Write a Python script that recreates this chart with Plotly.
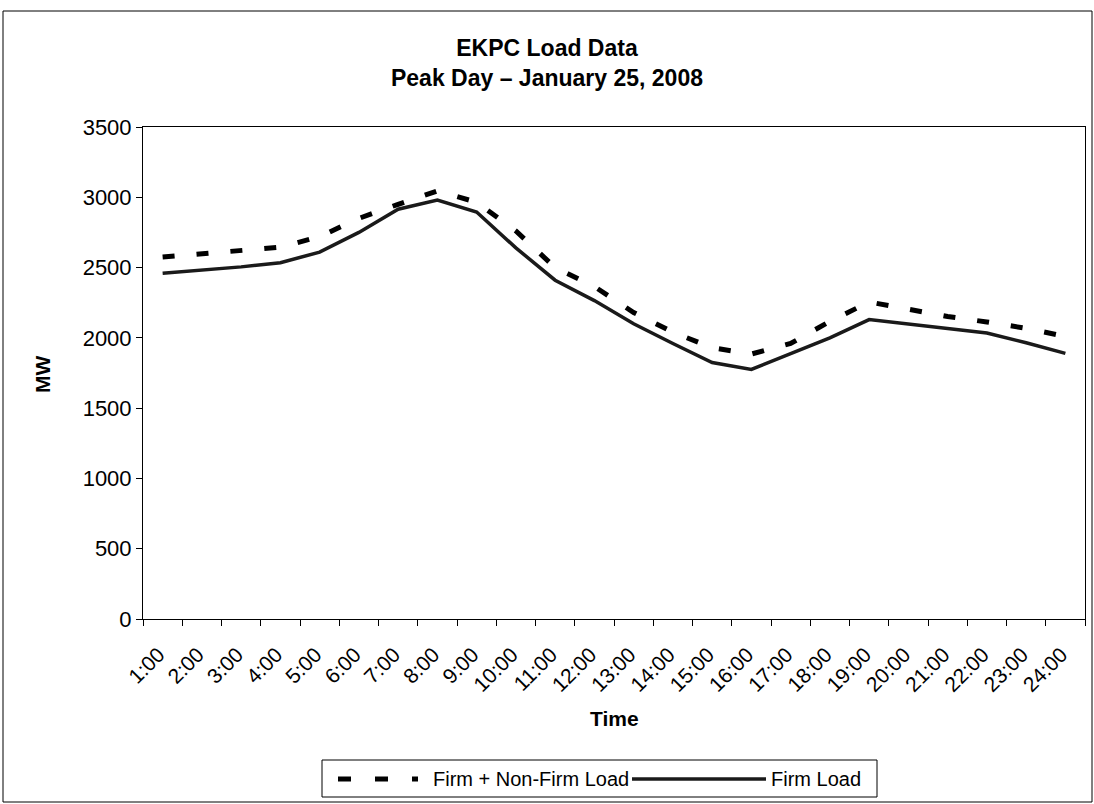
import plotly.graph_objects as go

hours = [f"{h}:00" for h in range(1, 25)]
firm_plus_nonfirm = [2575, 2600, 2625, 2645, 2720, 2850, 2950, 3045, 2965, 2760, 2500, 2365,
                     2180, 2040, 1930, 1885, 1960, 2117, 2255, 2205, 2152, 2113, 2068, 2010]
firm_load = [2460, 2480, 2505, 2535, 2610, 2750, 2915, 2980, 2895, 2640, 2410, 2265,
             2100, 1960, 1825, 1775, 1885, 2000, 2130, 2100, 2070, 2035, 1965, 1890]
y_ticks = [0, 500, 1000, 1500, 2000, 2500, 3000, 3500]
series_names = ["Firm + Non-Firm Load", "Firm Load"]

FONT = "Liberation Sans, Arial, sans-serif"
W, H = 1094, 804
L, R, T, B = 143, 1085, 127, 619  # plot area in pixels

def px_x(p):
    return (p - L) / (R - L)

def px_y(p):
    return (B - p) / (B - T)

DASH_STYLE = dict(color="black", width=5, dash="12px,22px")
SOLID_STYLE = dict(color="#1a1a1a", width=3.5)

fig = go.Figure()
fig.add_trace(go.Scatter(x=hours, y=firm_plus_nonfirm, mode="lines",
                         name=series_names[0], line=DASH_STYLE, showlegend=False))
fig.add_trace(go.Scatter(x=hours, y=firm_load, mode="lines",
                         name=series_names[1], line=SOLID_STYLE, showlegend=False))

# legend drawn by hand (box, samples, labels)
LEG_Y = 779
leg_shapes = [
    dict(type="rect", xref="paper", yref="paper",
         x0=px_x(322), x1=px_x(877), y0=px_y(797), y1=px_y(760),
         line=dict(color="black", width=1), fillcolor="white"),
    dict(type="line", xref="paper", yref="paper",
         x0=px_x(338), x1=px_x(418), y0=px_y(LEG_Y), y1=px_y(LEG_Y),
         line=dict(color="black", width=5, dash="13px,24px")),
    dict(type="line", xref="paper", yref="paper",
         x0=px_x(632), x1=px_x(766), y0=px_y(LEG_Y), y1=px_y(LEG_Y),
         line=SOLID_STYLE),
]
leg_texts = [
    dict(text=series_names[0], x=px_x(431), y=px_y(LEG_Y), xref="paper", yref="paper",
         showarrow=False, xanchor="left", yanchor="middle", font=dict(family=FONT, size=20)),
    dict(text=series_names[1], x=px_x(769), y=px_y(LEG_Y), xref="paper", yref="paper",
         showarrow=False, xanchor="left", yanchor="middle", font=dict(family=FONT, size=20)),
]

fig.update_layout(
    width=W, height=H,
    margin=dict(l=L, r=W - R, t=T, b=H - B, autoexpand=False),
    paper_bgcolor="white", plot_bgcolor="white",
    font=dict(family=FONT, size=20, color="black"),
    title=dict(
        text="<b>EKPC Load Data</b><br><b>Peak Day – January 25, 2008</b>",
        x=0.5, xanchor="center", y=1 - 56 / H, yanchor="middle",
        font=dict(family=FONT, size=23, color="black"),
    ),
    showlegend=False,
    xaxis=dict(
        type="category", range=[-0.5, 23.5], showgrid=False, showline=True,
        linecolor="black", linewidth=1,
        mirror=True, ticks="outside", tickson="boundaries", ticklen=6, tickcolor="black",
        tickangle=-45, tickfont=dict(family=FONT, size=21),
        ticklabelshift=-4, ticklabelstandoff=14,
    ),
    yaxis=dict(
        range=[0, 3500], tickvals=y_ticks, showgrid=False, zeroline=False,
        showline=True, linecolor="black", linewidth=1, mirror=True,
        ticks="outside", ticklen=6, tickcolor="black",
        tickfont=dict(family=FONT, size=22),
    ),
    annotations=[
        dict(text="<b>Time</b>", x=px_x(614), y=px_y(718), xref="paper", yref="paper",
             showarrow=False, font=dict(family=FONT, size=21), xanchor="center", yanchor="middle"),
        dict(text="<b>MW</b>", x=px_x(42), y=px_y(375), xref="paper", yref="paper",
             showarrow=False, textangle=-90, font=dict(family=FONT, size=21),
             xanchor="center", yanchor="middle"),
    ] + leg_texts,
    shapes=[
        dict(type="rect", xref="paper", yref="paper",
             x0=px_x(3), x1=px_x(1092), y0=px_y(802), y1=px_y(11),
             line=dict(color="black", width=1), fillcolor="rgba(0,0,0,0)", layer="below"),
    ] + leg_shapes,
)

fig.write_html("out.html", config={"displayModeBar": False},
               post_script="document.body.style.margin='0';")
